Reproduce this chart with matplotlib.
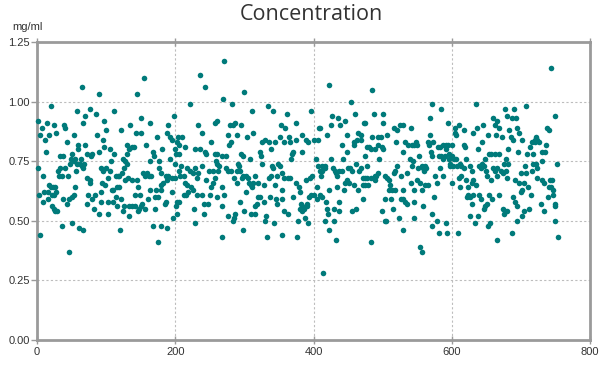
import matplotlib
matplotlib.use("Agg")
import matplotlib.pyplot as plt

#Sample readings in six slices along x
x_0_135 = [65, 90, 20, 58, 77, 86, 111, 70, 2, 15, 7, 25, 39, 40, 67, 97, 100, 121, 134, 4, 17, 28, 12, 53, 87, 96, 43, 130, 133,
           60, 69, 97, 105, 13, 59, 72, 80, 78, 89, 111, 130, 51, 33, 37, 49, 55, 64, 1, 8, 41, 33, 30, 32, 36, 45, 57, 62, 65,
           67, 68, 73, 76, 77, 93, 96, 100, 107, 106, 103, 94, 99, 108, 110, 114, 117, 119, 123, 126, 128, 132, 118, 116, 127,
           130, 124, 48, 53, 58, 3, 10, 16, 18, 20, 23, 26, 27, 21, 24, 9, 16, 21, 24, 26, 29, 38, 43, 47, 50, 53, 55, 72, 74,
           80, 84, 92, 83, 89, 92, 102, 103, 110, 114, 116, 121, 124, 126, 133, 133, 5, 36, 51, 61, 67, 46, 120]
y_0_135 = [1.06, 1.03, 0.98, 0.96, 0.97, 0.95, 0.96, 0.94, 0.92, 0.91, 0.89, 0.90, 0.90, 0.89, 0.91, 0.92, 0.88, 0.88, 0.90,
           0.86, 0.86, 0.87, 0.84, 0.86, 0.86, 0.84, 0.83, 0.82, 0.80, 0.82, 0.82, 0.81, 0.80, 0.79, 0.80, 0.78, 0.78, 0.77,
           0.79, 0.78, 0.78, 0.78, 0.77, 0.77, 0.76, 0.76, 0.76, 0.72, 0.69, 0.72, 0.72, 0.71, 0.69, 0.69, 0.69, 0.71, 0.74,
           0.73, 0.72, 0.74, 0.68, 0.67, 0.66, 0.72, 0.71, 0.72, 0.75, 0.71, 0.68, 0.66, 0.65, 0.63, 0.63, 0.69, 0.69, 0.69,
           0.70, 0.72, 0.67, 0.68, 0.64, 0.64, 0.75, 0.74, 0.76, 0.74, 0.75, 0.74, 0.61, 0.62, 0.62, 0.65, 0.64, 0.64, 0.64,
           0.62, 0.61, 0.61, 0.58, 0.59, 0.56, 0.55, 0.54, 0.54, 0.59, 0.57, 0.59, 0.60, 0.61, 0.64, 0.57, 0.61, 0.59, 0.61,
           0.62, 0.55, 0.53, 0.58, 0.58, 0.53, 0.58, 0.60, 0.56, 0.59, 0.54, 0.56, 0.52, 0.56, 0.44, 0.48, 0.49, 0.47, 0.46,
           0.37, 0.46]

x_135_270 = [155, 144, 236, 243, 271, 269, 222, 198, 150, 163, 143, 151, 190, 188, 233, 239, 257, 260, 174, 193, 195, 204, 210,
             202, 206, 214, 158, 137, 140, 251, 181, 168, 169, 229, 236, 243, 245, 257, 261, 268, 201, 205, 193, 199, 177, 163,
             259, 261, 263, 209, 217, 222, 226, 229, 233, 238, 245, 249, 254, 262, 258, 254, 251, 250, 267, 260, 267, 206, 207,
             213, 214, 217, 212, 216, 219, 223, 226, 231, 231, 238, 241, 248, 227, 241, 228, 176, 180, 186, 190, 195, 200, 183,
             188, 179, 180, 153, 159, 156, 162, 165, 145, 138, 146, 142, 149, 164, 172, 175, 171, 160, 152, 150, 148, 142, 138,
             146, 156, 170, 185, 186, 196, 201, 202, 205, 203, 197, 168, 179, 188, 175, 268, 200]
y_135_270 = [1.10, 1.03, 1.11, 1.06, 1.17, 1.01, 0.99, 0.94, 0.93, 0.91, 0.87, 0.87, 0.90, 0.87, 0.90, 0.87, 0.91, 0.92, 0.85,
             0.85, 0.84, 0.85, 0.85, 0.83, 0.82, 0.81, 0.82, 0.81, 0.81, 0.83, 0.80, 0.79, 0.77, 0.80, 0.80, 0.79, 0.78, 0.78,
             0.78, 0.77, 0.78, 0.78, 0.76, 0.74, 0.75, 0.75, 0.75, 0.74, 0.73, 0.73, 0.72, 0.71, 0.70, 0.72, 0.70, 0.73, 0.67,
             0.71, 0.71, 0.71, 0.68, 0.66, 0.64, 0.61, 0.64, 0.60, 0.56, 0.71, 0.69, 0.69, 0.66, 0.65, 0.61, 0.61, 0.62, 0.64,
             0.63, 0.68, 0.61, 0.61, 0.57, 0.57, 0.55, 0.53, 0.49, 0.72, 0.70, 0.69, 0.69, 0.68, 0.68, 0.66, 0.67, 0.65, 0.63,
             0.70, 0.70, 0.69, 0.69, 0.69, 0.67, 0.67, 0.64, 0.61, 0.61, 0.63, 0.63, 0.60, 0.60, 0.59, 0.57, 0.56, 0.55, 0.56,
             0.56, 0.54, 0.55, 0.55, 0.57, 0.58, 0.62, 0.56, 0.58, 0.58, 0.53, 0.51, 0.48, 0.48, 0.47, 0.41, 0.43, 0.80]

x_270_410 = [300, 282, 311, 334, 342, 362, 396, 279, 286, 284, 295, 353, 359, 375, 277, 289, 304, 312, 281, 278, 325, 330, 336,
             344, 352, 358, 365, 366, 374, 384, 389, 392, 400, 407, 408, 322, 324, 339, 371, 369, 368, 383, 295, 298, 308, 273,
             291, 292, 274, 277, 280, 326, 340, 342, 349, 351, 355, 358, 363, 366, 347, 338, 336, 345, 355, 329, 320, 315, 313,
             311, 310, 307, 303, 305, 298, 296, 293, 289, 285, 290, 302, 270, 395, 398, 405, 403, 407, 409, 375, 379, 381, 389,
             397, 401, 405, 393, 319, 323, 328, 318, 316, 337, 346, 347, 371, 355, 358, 363, 382, 384, 381, 386, 383, 390, 391,
             388, 392, 377, 293, 299, 287, 276, 285, 283, 309, 315, 331, 330, 343, 298, 333, 354, 376]
y_270_410 = [1.04, 0.99, 0.96, 0.98, 0.96, 0.95, 0.96, 0.90, 0.91, 0.90, 0.90, 0.90, 0.89, 0.91, 0.86, 0.86, 0.85, 0.87, 0.83,
             0.82, 0.83, 0.84, 0.83, 0.83, 0.85, 0.83, 0.85, 0.83, 0.84, 0.86, 0.84, 0.83, 0.84, 0.84, 0.89, 0.79, 0.77, 0.80,
             0.79, 0.78, 0.76, 0.79, 0.78, 0.77, 0.76, 0.77, 0.74, 0.73, 0.72, 0.71, 0.71, 0.74, 0.73, 0.72, 0.74, 0.73, 0.70,
             0.68, 0.68, 0.68, 0.69, 0.69, 0.68, 0.65, 0.63, 0.65, 0.66, 0.69, 0.66, 0.64, 0.65, 0.66, 0.69, 0.68, 0.69, 0.68,
             0.71, 0.71, 0.68, 0.66, 0.62, 0.61, 0.68, 0.69, 0.64, 0.76, 0.73, 0.71, 0.66, 0.64, 0.62, 0.67, 0.61, 0.61, 0.59,
             0.60, 0.60, 0.60, 0.58, 0.57, 0.56, 0.60, 0.59, 0.57, 0.60, 0.59, 0.54, 0.53, 0.57, 0.56, 0.55, 0.55, 0.54, 0.56,
             0.57, 0.51, 0.49, 0.50, 0.58, 0.54, 0.53, 0.52, 0.51, 0.50, 0.53, 0.53, 0.52, 0.50, 0.49, 0.46, 0.43, 0.44, 0.43]

x_410_547 = [422, 484, 454, 460, 488, 501, 500, 427, 435, 446, 425, 439, 410, 419, 473, 475, 449, 441, 458, 459, 463, 465, 468,
             468, 485, 494, 497, 493, 499, 501, 506, 480, 478, 483, 489, 449, 517, 521, 525, 529, 541, 520, 533, 537, 529, 542,
             546, 475, 495, 426, 443, 413, 417, 412, 416, 411, 428, 432, 437, 441, 434, 431, 450, 453, 455, 461, 466, 468, 477,
             471, 475, 478, 483, 489, 491, 493, 506, 504, 516, 518, 521, 527, 535, 542, 540, 544, 541, 545, 446, 449, 451, 458,
             465, 471, 475, 479, 489, 509, 511, 513, 509, 518, 529, 409, 422, 434, 444, 413, 418, 437, 420, 421, 430, 437, 455,
             462, 472, 504, 512, 515, 499, 526, 529, 532, 535, 545, 416, 429, 423, 433, 483, 503, 505, 524, 530, 546, 414]
y_410_547 = [1.07, 1.05, 1.00, 0.95, 0.95, 0.95, 0.91, 0.94, 0.93, 0.92, 0.90, 0.90, 0.89, 0.86, 0.91, 0.91, 0.86, 0.82, 0.82,
             0.83, 0.84, 0.87, 0.86, 0.84, 0.85, 0.85, 0.85, 0.82, 0.81, 0.80, 0.86, 0.81, 0.81, 0.80, 0.80, 0.79, 0.89, 0.88,
             0.90, 0.90, 0.89, 0.83, 0.83, 0.82, 0.79, 0.82, 0.82, 0.77, 0.76, 0.76, 0.76, 0.73, 0.73, 0.71, 0.72, 0.69, 0.72,
             0.70, 0.71, 0.71, 0.69, 0.71, 0.72, 0.72, 0.71, 0.74, 0.71, 0.72, 0.73, 0.68, 0.68, 0.68, 0.68, 0.69, 0.69, 0.70,
             0.68, 0.69, 0.70, 0.71, 0.73, 0.69, 0.70, 0.73, 0.76, 0.75, 0.66, 0.63, 0.66, 0.67, 0.66, 0.65, 0.63, 0.65, 0.65,
             0.65, 0.67, 0.67, 0.65, 0.63, 0.63, 0.63, 0.63, 0.61, 0.63, 0.64, 0.63, 0.60, 0.58, 0.58, 0.55, 0.53, 0.55, 0.54,
             0.54, 0.55, 0.59, 0.59, 0.59, 0.55, 0.54, 0.59, 0.59, 0.58, 0.57, 0.58, 0.50, 0.50, 0.46, 0.42, 0.41, 0.50, 0.50,
             0.51, 0.46, 0.51, 0.28]

x_547_685 = [571, 585, 635, 677, 680, 569, 594, 605, 611, 604, 606, 617, 631, 637, 645, 653, 660, 666, 663, 668, 664, 672, 683,
             682, 548, 550, 568, 565, 567, 573, 580, 583, 587, 592, 595, 600, 592, 617, 619, 644, 638, 552, 570, 571, 581, 585,
             588, 590, 596, 596, 600, 603, 606, 620, 648, 654, 657, 662, 669, 678, 681, 551, 557, 559, 561, 563, 560, 583, 597,
             598, 602, 607, 612, 614, 617, 626, 629, 640, 644, 647, 643, 650, 659, 662, 665, 671, 675, 678, 674, 550, 554, 561,
             565, 576, 578, 588, 600, 611, 613, 612, 621, 624, 629, 631, 635, 651, 657, 665, 680, 557, 574, 559, 571, 572, 578,
             591, 581, 593, 609, 623, 627, 622, 630, 631, 640, 643, 648, 651, 647, 654, 658, 669, 627, 633, 638, 653, 655, 674,
             677, 675, 680, 666, 554, 557]
y_547_685 = [0.99, 0.97, 0.99, 0.97, 0.94, 0.93, 0.91, 0.89, 0.90, 0.87, 0.86, 0.88, 0.87, 0.89, 0.90, 0.86, 0.93, 0.92, 0.90,
             0.89, 0.86, 0.85, 0.88, 0.80, 0.83, 0.82, 0.86, 0.83, 0.82, 0.83, 0.81, 0.81, 0.82, 0.82, 0.82, 0.82, 0.80, 0.82,
             0.81, 0.83, 0.80, 0.77, 0.79, 0.77, 0.77, 0.77, 0.76, 0.77, 0.78, 0.76, 0.77, 0.76, 0.76, 0.76, 0.76, 0.78, 0.78,
             0.78, 0.78, 0.76, 0.74, 0.72, 0.73, 0.72, 0.73, 0.72, 0.71, 0.72, 0.73, 0.74, 0.73, 0.73, 0.74, 0.73, 0.72, 0.73,
             0.71, 0.73, 0.74, 0.73, 0.72, 0.71, 0.72, 0.71, 0.72, 0.71, 0.74, 0.71, 0.70, 0.67, 0.66, 0.65, 0.65, 0.69, 0.66,
             0.69, 0.66, 0.68, 0.69, 0.64, 0.67, 0.64, 0.66, 0.67, 0.65, 0.69, 0.67, 0.69, 0.68, 0.63, 0.60, 0.56, 0.53, 0.48,
             0.50, 0.49, 0.45, 0.45, 0.45, 0.61, 0.60, 0.60, 0.57, 0.61, 0.61, 0.59, 0.56, 0.57, 0.55, 0.61, 0.59, 0.61, 0.52,
             0.49, 0.52, 0.48, 0.49, 0.55, 0.54, 0.53, 0.54, 0.42, 0.39, 0.37]

x_685_755 = [743, 708, 690, 750, 687, 693, 695, 697, 738, 740, 686, 688, 702, 696, 716, 720, 722, 724, 721, 726, 713, 737, 731,
             735, 709, 718, 752, 718, 722, 730, 706, 724, 700, 708, 716, 691, 724, 730, 734, 742, 745, 698, 704, 711, 740, 743,
             746, 747, 702, 700, 714, 739, 689, 692, 694, 704, 701, 695, 712, 729, 733, 749, 749, 750, 753, 687]
y_685_755 = [1.14, 0.98, 0.97, 0.94, 0.93, 0.93, 0.89, 0.87, 0.89, 0.88, 0.85, 0.84, 0.84, 0.79, 0.83, 0.84, 0.85, 0.84, 0.83,
             0.83, 0.81, 0.82, 0.79, 0.79, 0.78, 0.78, 0.74, 0.74, 0.74, 0.75, 0.73, 0.72, 0.70, 0.70, 0.71, 0.67, 0.68, 0.67,
             0.66, 0.67, 0.67, 0.66, 0.66, 0.64, 0.64, 0.64, 0.63, 0.61, 0.63, 0.62, 0.61, 0.60, 0.60, 0.58, 0.56, 0.54, 0.52,
             0.50, 0.55, 0.57, 0.54, 0.57, 0.56, 0.50, 0.43, 0.45]

x_ticks = [0, 200, 400, 600, 800]
y_ticks = [0.00, 0.25, 0.50, 0.75, 1.00, 1.25]

TEAL = "#007a7a"
AXIS_GRAY = "#9a9a9a"
GRID_GRAY = "#bdbdbd"

xs = x_0_135 + x_135_270 + x_270_410 + x_410_547 + x_547_685 + x_685_755
ys = y_0_135 + y_135_270 + y_270_410 + y_410_547 + y_547_685 + y_685_755

fig = plt.figure(figsize=(6.14, 3.67), dpi=100)
ax = fig.add_axes([37 / 614, 1 - 340 / 367, 553 / 614, 298 / 367])

ax.scatter(xs, ys, s=16, color=TEAL, linewidths=0, zorder=3, clip_on=False)

ax.set_xlim(0, 800)
ax.set_ylim(0, 1.25)
ax.set_xticks(x_ticks)
ax.set_yticks(y_ticks)
ax.set_yticklabels([f"{v:.2f}" for v in y_ticks])

#grid only on the inner lines, the outer ones are spines
for v in x_ticks[1:-1]:
    ax.axvline(v, color=GRID_GRAY, lw=0.8, ls=(0, (2, 2)), zorder=1)
for v in y_ticks[1:-1]:
    ax.axhline(v, color=GRID_GRAY, lw=0.8, ls=(0, (2, 2)), zorder=1)

for side in ["left", "right", "top", "bottom"]:
    ax.spines[side].set_color(AXIS_GRAY)
    ax.spines[side].set_linewidth(2)

ax.tick_params(axis="x", top=True, direction="inout", length=6, width=1, color=AXIS_GRAY,
               labelsize=8, labelcolor="#333333", pad=2)
ax.tick_params(axis="y", direction="out", length=4, width=1, color=AXIS_GRAY,
               labelsize=8, labelcolor="#333333", pad=1)
for lbl in ax.get_xticklabels() + ax.get_yticklabels():
    lbl.set_fontfamily("Liberation Sans")

fig.text(311 / 614, 1 - 15 / 367, "Concentration", ha="center", va="center",
         fontsize=15.5, family="Open Sans", weight=500, color="#333333")
fig.text(12 / 614, 1 - 27 / 367, "mg/ml", ha="left", va="center",
         fontsize=8, family="Liberation Sans", color="#333333")

fig.savefig("out.png", dpi=100)
